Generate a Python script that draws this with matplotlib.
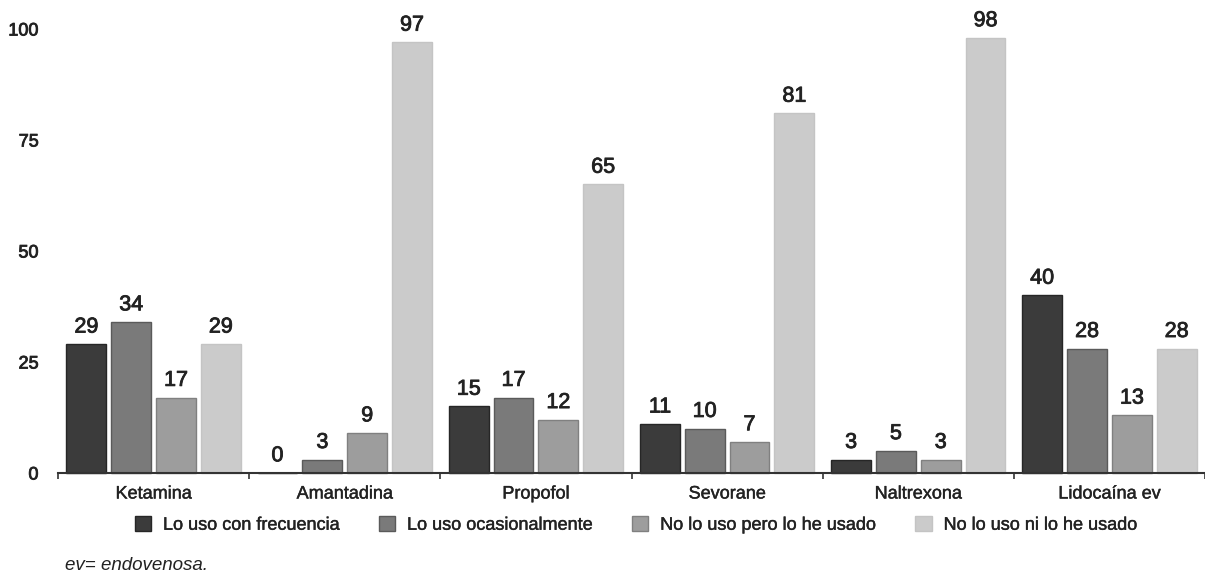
import matplotlib
matplotlib.use("Agg")
import matplotlib.pyplot as plt
import matplotlib.patheffects as pe
import numpy as np
from matplotlib.patches import Patch

plt.rcParams['font.family'] = ['Liberation Sans', 'DejaVu Sans']

categories = ["Ketamina", "Amantadina", "Propofol", "Sevorane", "Naltrexona", "Lidocaína ev"]
series_names = ["Lo uso con frecuencia", "Lo uso ocasionalmente",
                "No lo uso pero lo he usado", "No lo uso ni lo he usado"]
frecuencia = [29, 0, 15, 11, 3, 40]
ocasional = [34, 3, 17, 10, 5, 28]
pero_usado = [17, 9, 12, 7, 3, 13]
nunca = [29, 97, 65, 81, 98, 28]
yticks = [0, 25, 50, 75, 100]

series = [frecuencia, ocasional, pero_usado, nunca]
colors = ["#3b3b3b", "#7a7a7a", "#9d9d9d", "#cbcbcb"]
edges = ["#262626", "#5a5a5a", "#808080", "#c4c4c4"]
txt = '#222222'

def thick(c, w=0.5):
    return [pe.withStroke(linewidth=w, foreground=c)]

fig = plt.figure(figsize=(12.05, 5.79), dpi=100)
ax = fig.add_axes([58/1205, 106/579, 1 - 58/1205, 444/579])

x = np.arange(len(categories))
step = 45/192
width = 40/192
for i, (vals, c, e) in enumerate(zip(series, colors, edges)):
    pos = x + (i - 1.5) * step
    ax.bar(pos, vals, width=width, color=c, edgecolor=e, linewidth=1.0, clip_on=False)
    for xp, v in zip(pos, vals):
        ax.text(xp, v + 1.5, str(v), ha='center', va='bottom', fontsize=15.5,
                color=txt, clip_on=False, path_effects=thick(txt, 0.6))

ax.set_xlim(-0.5, -0.5 + (1205 - 58) / 192)
ax.set_ylim(0, 100)
ax.set_yticks(yticks)
ax.set_yticklabels([str(t) for t in yticks], fontsize=13, color=txt)
ax.tick_params(axis='y', length=0, pad=14)
for t in ax.get_yticklabels():
    t.set_path_effects(thick(txt, 0.6))

ax.set_xticks(x)
ax.set_xticklabels(categories, fontsize=13, color=txt)
ax.tick_params(axis='x', length=0, pad=9)
for t in ax.get_xticklabels():
    t.set_path_effects(thick(txt, 0.3))
ax.set_xticks(np.arange(-0.5, len(categories), 1), minor=True)
ax.tick_params(axis='x', which='minor', length=4, width=1.2, color='#333333', direction='out')

for s in ['top', 'right', 'left']:
    ax.spines[s].set_visible(False)
ax.spines['bottom'].set_color('#333333')
ax.spines['bottom'].set_linewidth(1.5)

handles = [Patch(facecolor=c, edgecolor=e) for c, e in zip(colors, edges)]
leg = fig.legend(handles, series_names, loc='center', bbox_to_anchor=(636/1205, 1 - 525/579),
                 ncol=4, frameon=False, fontsize=13, handlelength=0.9, handleheight=0.85,
                 columnspacing=2.2, handletextpad=0.66, borderpad=0, borderaxespad=0)
for t in leg.get_texts():
    t.set_color(txt)
    t.set_path_effects(thick(txt, 0.3))

fig.text(65/1205, 1 - 566/579, "ev= endovenosa.", fontsize=13.5, style='italic',
         color=txt, va='center', ha='left')

fig.savefig("out.png", dpi=100)
